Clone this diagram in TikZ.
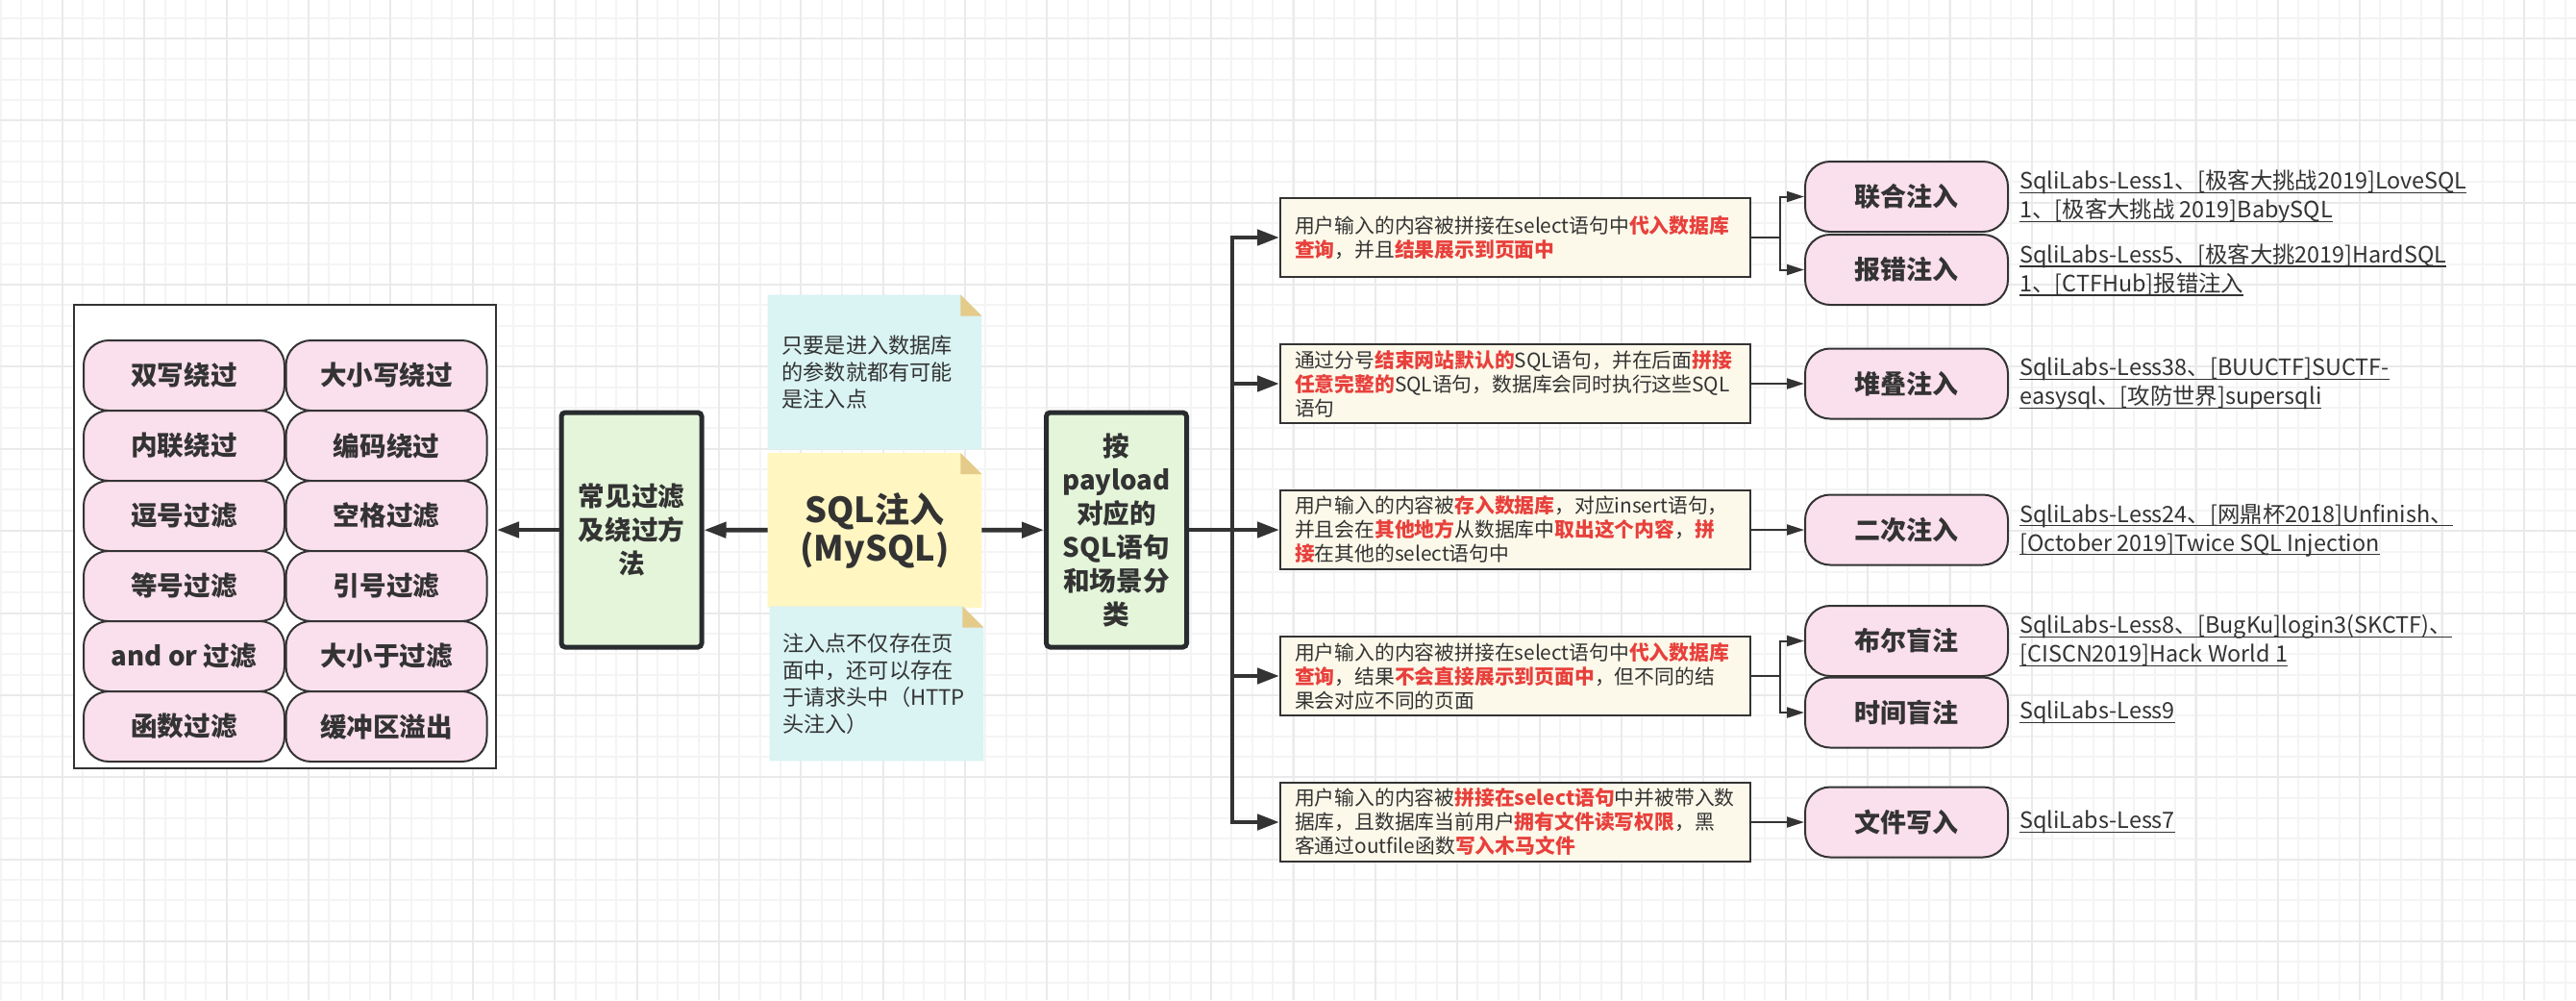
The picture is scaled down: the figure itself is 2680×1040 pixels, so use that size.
\documentclass[tikz,border=0pt]{standalone}
\usepackage{fontspec}
\setmainfont{Noto Sans CJK SC}
\usetikzlibrary{arrows.meta,backgrounds,positioning}

\definecolor{ink}{RGB}{51,51,51}
\definecolor{edgeink}{RGB}{40,44,46}
\definecolor{pinkfill}{RGB}{250,223,236}
\definecolor{greenfill}{RGB}{228,245,218}
\definecolor{cyanfill}{RGB}{218,243,243}
\definecolor{yellowfill}{RGB}{255,246,194}
\definecolor{foldtan}{RGB}{228,203,138}
\definecolor{descfill}{RGB}{252,249,234}
\definecolor{hired}{RGB}{232,64,60}
\definecolor{gridminor}{RGB}{244,244,244}
\definecolor{gridmajor}{RGB}{234,234,234}

\newcommand{\redb}[1]{{\bfseries\color{hired}#1}}
\newcommand{\uln}[1]{\setbox0\hbox{#1}\rlap{\rule[-2.2pt]{\wd0}{0.6pt}}\box0}
\newcommand{\notefill}[2]{%
  \fill[#2] (#1.north west) -- ([xshift=-11pt]#1.north east)
    -- ([yshift=-11pt]#1.north east) -- (#1.south east) -- (#1.south west) -- cycle;
  \fill[foldtan] ([xshift=-11pt]#1.north east) -- ([xshift=-11pt,yshift=-11pt]#1.north east)
    -- ([yshift=-11pt]#1.north east) -- cycle;}

\tikzset{
  pill/.style={draw=ink, line width=1pt, fill=pinkfill, rounded corners=13pt,
    minimum width=104.5pt, minimum height=36.5pt, text=ink,
    font=\fontsize{13.8pt}{16pt}\selectfont\bfseries},
  groupbox/.style={draw=edgeink, line width=2.5pt, fill=greenfill, rounded corners=2pt,
    minimum width=73pt, minimum height=122pt, align=center, text=ink,
    font=\fontsize{13.8pt}{17.5pt}\selectfont\bfseries},
  note/.style={minimum width=111pt, minimum height=80pt, inner sep=0pt, text=ink},
  desc/.style={draw=ink, line width=1pt, fill=descfill, minimum width=244.5pt,
    minimum height=41pt, inner sep=0pt, text width=229.5pt, align=left, text=ink,
    font=\fontsize{10.4pt}{12.5pt}\selectfont},
  ref/.style={align=left, text=ink, inner sep=0pt,
    font=\fontsize{11.7pt}{15pt}\selectfont},
  big/.style={draw=ink, line width=2.3pt, -{Triangle[length=11.5pt,width=8pt]}},
  small/.style={draw=ink, line width=1pt, -{Triangle[length=9pt,width=5.5pt]}}
}

\begin{document}
\begin{tikzpicture}[x=0.5pt,y=-0.5pt]
      \useasboundingbox (0,0) rectangle (2680,1040);

      \begin{scope}[on background layer]
        \fill[white] (0,0) rectangle (2680,1040);
        \foreach \i in {0,...,125}
          \draw[gridminor, line width=1pt] (0.98+\i*21.34,0) -- ++(0,1040);
        \foreach \j in {0,...,48}
          \draw[gridminor, line width=1pt] (0,18.66+\j*21.34) -- ++(2680,0);
        \foreach \i in {0,...,30}
          \draw[gridmajor, line width=1pt] (65+\i*85.37,0) -- ++(0,1040);
        \foreach \j in {0,...,11}
          \draw[gridmajor, line width=1pt] (0,40+\j*85.37) -- ++(2680,0);
      \end{scope}

      \node[draw=ink, line width=1pt, fill=white, minimum width=219.5pt,
        minimum height=241pt] (box) at (296.5,558) {};

      \begin{scope}[every node/.style={pill}]
        \node (f1)  at (191.5,390.5) {双写绕过};
        \node (f2)  at (402,390.5)   {大小写绕过};
        \node (f3)  at (191.5,463.5) {内联绕过};
        \node (f4)  at (402,463.5)   {编码绕过};
        \node (f5)  at (191.5,536.5) {逗号过滤};
        \node (f6)  at (402,536.5)   {空格过滤};
        \node (f7)  at (191.5,609.5) {等号过滤};
        \node (f8)  at (402,609.5)   {引号过滤};
        \node (f9)  at (191.5,682.5) {and or 过滤};
        \node (f10) at (402,682.5)   {大小于过滤};
        \node (f11) at (191.5,755.5) {函数过滤};
        \node (f12) at (402,755.5)   {缓冲区溢出};
      \end{scope}

      \node[groupbox] (g1) at (657,551) {常见过滤\\及绕过方\\法};
      \node[groupbox] (g2) at (1161.5,551) {按\\payload\\对应的\\SQL语句\\和场景分\\类};

      \begin{scope}[every node/.style={note}]
        \node[text width=96.5pt, align=left, font=\fontsize{11.1pt}{14pt}\selectfont]
          (n1) at (910,387) {只要是进入数据库\\的参数就都有可能\\是注入点};
        \node[align=center, font=\fontsize{18pt}{20pt}\selectfont\bfseries]
          (sql) at (910,551.5) {SQL注入\\(MySQL)};
        \node[text width=98pt, align=left, font=\fontsize{11.1pt}{14pt}\selectfont]
          (n2) at (912,711) {注入点不仅存在页\\面中，还可以存在\\于请求头中（HTTP\\头注入）};
      \end{scope}

      \begin{scope}[on background layer]
        \notefill{n1}{cyanfill}
        \notefill{sql}{yellowfill}
        \notefill{n2}{cyanfill}
      \end{scope}

      \begin{scope}[every node/.style={desc}]
        \node (d1) at (1576.5,247) {用户输入的内容被拼接在select语句中\redb{代入数据库}\\
          \redb{查询}，并且\redb{结果展示到页面中}};
        \node (d2) at (1576.5,399) {通过分号\redb{结束网站默认的}SQL语句，并在后面\redb{拼接}\\
          \redb{任意完整的}SQL语句，数据库会同时执行这些SQL\\语句};
        \node (d3) at (1576.5,551) {用户输入的内容被\redb{存入数据库}，对应insert语句，\\
          并且会在\redb{其他地方}从数据库中\redb{取出这个内容}，\redb{拼}\\\redb{接}在其他的select语句中};
        \node (d4) at (1576.5,703) {用户输入的内容被拼接在select语句中\redb{代入数据库}\\
          \redb{查询}，结果\redb{不会直接展示到页面中}，但不同的结\\果会对应不同的页面};
        \node (d5) at (1576.5,855) {用户输入的内容被\redb{拼接在select语句}中并被带入数\\
          据库，且数据库当前用户\redb{拥有文件读写权限}，黑\\客通过outfile函数\redb{写入木马文件}};
      \end{scope}

      \begin{scope}[every node/.style={pill, minimum width=105.5pt, font=\fontsize{13.5pt}{16pt}\selectfont\bfseries}]
        \node (t1) at (1983.5,204.5) {联合注入};
        \node (t2) at (1983.5,280.5) {报错注入};
        \node (t3) at (1983.5,399)   {堆叠注入};
        \node (t4) at (1983.5,551)   {二次注入};
        \node (t5) at (1983.5,666.5) {布尔盲注};
        \node (t6) at (1983.5,741)   {时间盲注};
        \node (t7) at (1983.5,855)   {文件写入};
      \end{scope}

      \begin{scope}[every node/.style={ref}]
        \node[right=5.5pt of t1] (r1) {\uln{SqliLabs-Less1、[极客大挑战2019]LoveSQL}\\\uln{1、[极客大挑战 2019]BabySQL}};
        \node[right=5.5pt of t2] (r2) {\uln{SqliLabs-Less5、[极客大挑2019]HardSQL}\\\uln{1、[CTFHub]报错注入}};
        \node[right=5.5pt of t3] (r3) {\uln{SqliLabs-Less38、[BUUCTF]SUCTF-}\\\uln{easysql、[攻防世界]supersqli}};
        \node[right=5.5pt of t4] (r4) {\uln{SqliLabs-Less24、[网鼎杯2018]Unfinish、}\\\uln{[October 2019]Twice SQL Injection}};
        \node[right=5.5pt of t5] (r5) {\uln{SqliLabs-Less8、[BugKu]login3(SKCTF)、}\\\uln{[CISCN2019]Hack World 1}};
        \node[right=5.5pt of t6] (r6) {\uln{SqliLabs-Less9}};
        \node[right=5.5pt of t7] (r7) {\uln{SqliLabs-Less7}};
      \end{scope}

      \coordinate (tr) at (1282,551);

      \draw[big] (sql) -- (g1);
      \draw[big] (g1.west) -- (g1.west -| box.east);
      \draw[big] (sql) -- (g2);
      \draw[big] (g2) -- (d3);
      \draw[big] (tr) |- (d1);
      \draw[big] (tr) |- (d2);
      \draw[big] (tr) |- (d4);
      \draw[big] (tr) |- (d5);

      \draw[small] (d1.east) -- ++(30,0) |- (t1);
      \draw[small] (d1.east) -- ++(30,0) |- (t2);
      \draw[small] (d2) -- (t3);
      \draw[small] (d3) -- (t4);
      \draw[small] (d4.east) -- ++(30,0) |- (t5);
      \draw[small] (d4.east) -- ++(30,0) |- (t6);
      \draw[small] (d5) -- (t7);

\end{tikzpicture}
\end{document}
